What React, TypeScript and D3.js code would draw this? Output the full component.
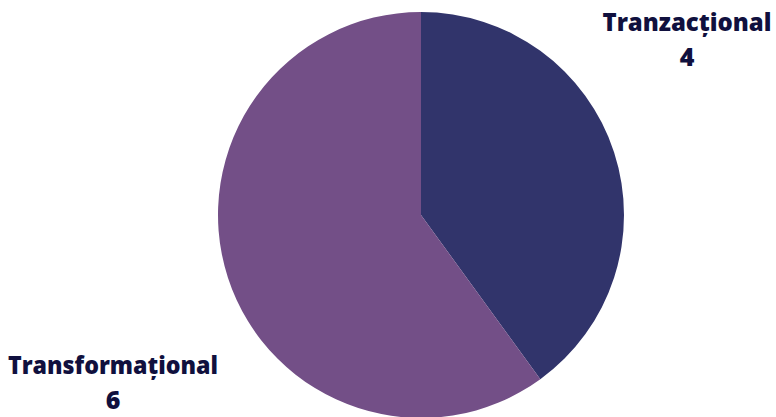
import React from 'react';
import * as d3 from 'd3';

const categories = ['Tranzacțional', 'Transformațional'];
const values = [4, 6];
const colors = ['#31346B', '#734F87'];

const W = 776;
const H = 417;

const App: React.FC = () => {
  const cx = 421;
  const cy = 215;
  const r = 203;

  const data = categories.map((c, i) => ({ name: c, value: values[i], color: colors[i] }));
  const pie = d3.pie<any>().sort(null).value(d => d.value);
  const arcs = pie(data);
  const arc = d3.arc<any>().innerRadius(0).outerRadius(r);

  // label anchors (outside the pie, as in the reference)
  const labelPos = [
    { x: 687, y: 31 },
    { x: 113, y: 374 },
  ];

  return (
    <div style={{ position: 'fixed', left: 0, top: 0 }}>
      <svg width={W} height={H} style={{ display: 'block', background: '#fff' }}>
        <g transform={`translate(${cx},${cy})`}>
          {arcs.map((a, i) => (
            <path key={i} d={arc(a) as string} fill={a.data.color} />
          ))}
        </g>
        {arcs.map((a, i) => (
          <text
            key={'l' + i}
            x={labelPos[i].x}
            y={labelPos[i].y}
            textAnchor="middle"
            fill="#10103E"
            fontFamily="'Open Sans', sans-serif"
            fontWeight={800}
            fontSize={24}
            textLength={i === 0 ? 169 : 210}
            lengthAdjust="spacingAndGlyphs"
          >
            <tspan x={labelPos[i].x}>{a.data.name}</tspan>
          </text>
        ))}
        {arcs.map((a, i) => (
          <text
            key={'v' + i}
            x={labelPos[i].x}
            y={labelPos[i].y + 35}
            textAnchor="middle"
            fill="#10103E"
            fontFamily="'Open Sans', sans-serif"
            fontWeight={800}
            fontSize={25}
          >
            {a.data.value}
          </text>
        ))}
      </svg>
    </div>
  );
};

export default App;
